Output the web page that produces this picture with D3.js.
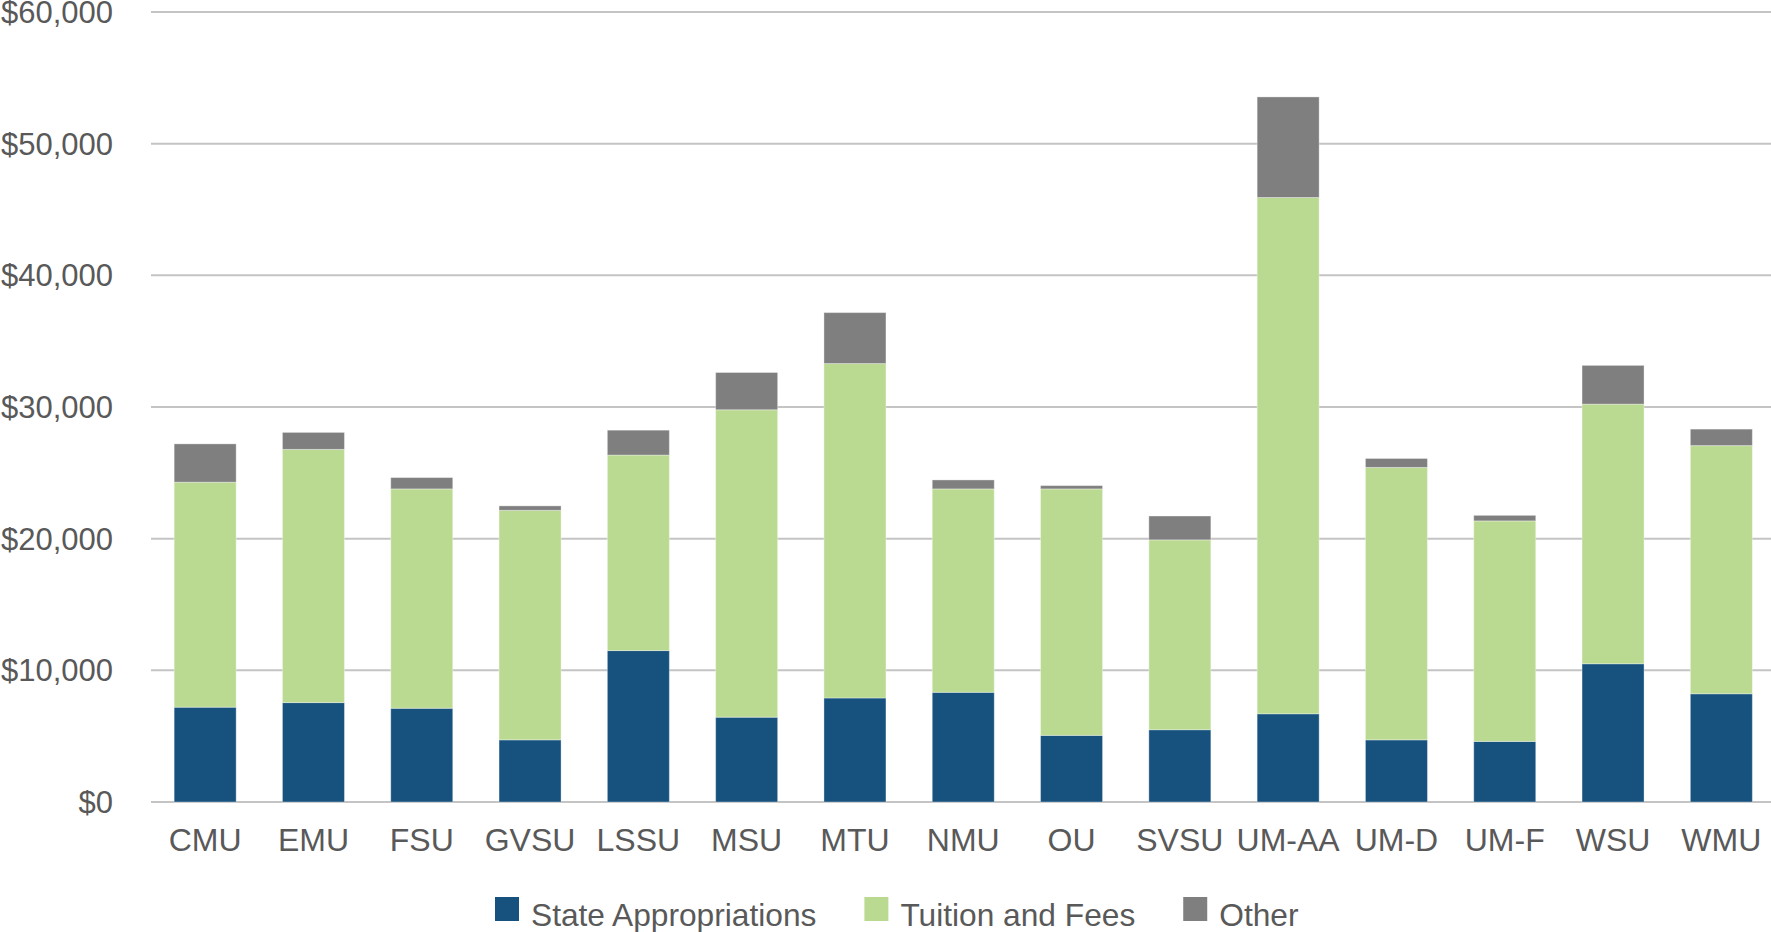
<!DOCTYPE html>
<html>
<head>
<meta charset="utf-8">
<script src="https://cdn.jsdelivr.net/npm/d3@7"></script>
<style>
  html, body { margin: 0; padding: 0; background: #fff; }
  svg { display: block; font-family: "Liberation Sans", Arial, sans-serif; }
</style>
</head>
<body>
<svg id="chart" width="1771" height="932"></svg>
<script>
const schools = ["CMU", "EMU", "FSU", "GVSU", "LSSU", "MSU", "MTU", "NMU", "OU", "SVSU", "UM-AA", "UM-D", "UM-F", "WSU", "WMU"];
const stateAppropriations = [7200, 7550, 7120, 4720, 11500, 6440, 7900, 8330, 5060, 5490, 6700, 4720, 4600, 10500, 8220];
const tuitionAndFees = [17090, 19230, 16660, 17430, 14850, 23350, 25400, 15450, 18720, 14420, 39210, 20690, 16750, 19720, 18850];
const other = [2910, 1290, 860, 340, 1890, 2830, 3870, 680, 250, 1810, 7640, 680, 420, 2940, 1250];
const seriesNames = ["State Appropriations", "Tuition and Fees", "Other"];
const seriesColors = ["#16527d", "#bbda91", "#7f7f7f"];
const yTicks = [0, 10000, 20000, 30000, 40000, 50000, 60000];

const width = 1771;
const height = 932;
const margin = { top: 12, right: 0, bottom: 130, left: 151 };
const textColor = "#595959";

const svg = d3.select("#chart");

const rows = schools.map((name, i) => ({
  name,
  state: stateAppropriations[i],
  tuition: tuitionAndFees[i],
  other: other[i],
}));

const stack = d3.stack().keys(["state", "tuition", "other"]);
const layers = stack(rows);

const x = d3
  .scaleBand()
  .domain(schools)
  .range([margin.left, 1775.5])
  .paddingInner(0.4275)
  .paddingOuter(0.2138);

const y = d3
  .scaleLinear()
  .domain([0, 60000])
  .range([height - margin.bottom, margin.top]);

// gridlines
svg
  .append("g")
  .selectAll("line")
  .data(yTicks)
  .join("line")
  .attr("x1", margin.left)
  .attr("x2", width - margin.right)
  .attr("y1", (d) => y(d))
  .attr("y2", (d) => y(d))
  .attr("stroke", "#c4c4c4")
  .attr("stroke-width", 2);

// y tick labels
svg
  .append("g")
  .selectAll("text")
  .data(yTicks)
  .join("text")
  .attr("x", 113)
  .attr("y", (d) => y(d))
  .attr("dy", "0.36em")
  .attr("text-anchor", "end")
  .attr("font-size", 31)
  .attr("fill", textColor)
  .text((d) => "$" + d3.format(",")(d));

// bars
svg
  .append("g")
  .selectAll("g")
  .data(layers)
  .join("g")
  .attr("fill", (d, i) => seriesColors[i])
  .selectAll("rect")
  .data((d) => d)
  .join("rect")
  .attr("x", (d) => x(d.data.name))
  .attr("width", x.bandwidth())
  .attr("y", (d) => y(d[1]))
  .attr("height", (d) => y(d[0]) - y(d[1]))
  .attr("stroke", "rgba(255,255,255,0.35)")
  .attr("stroke-width", 1);

// x labels
svg
  .append("g")
  .selectAll("text")
  .data(schools)
  .join("text")
  .attr("x", (d) => x(d) + x.bandwidth() / 2)
  .attr("y", 851)
  .attr("text-anchor", "middle")
  .attr("font-size", 32)
  .attr("fill", textColor)
  .text((d) => d);

// legend
const legend = svg.append("g");
let cursor = 495;
seriesNames.forEach((name, i) => {
  legend
    .append("rect")
    .attr("x", cursor)
    .attr("y", 897)
    .attr("width", 24)
    .attr("height", 24)
    .attr("fill", seriesColors[i]);
  const label = legend
    .append("text")
    .attr("x", cursor + 36)
    .attr("y", 926)
    .attr("font-size", 31.7)
    .attr("fill", textColor)
    .text(name);
  cursor += 36 + label.node().getComputedTextLength() + 48;
});
</script>
</body>
</html>
